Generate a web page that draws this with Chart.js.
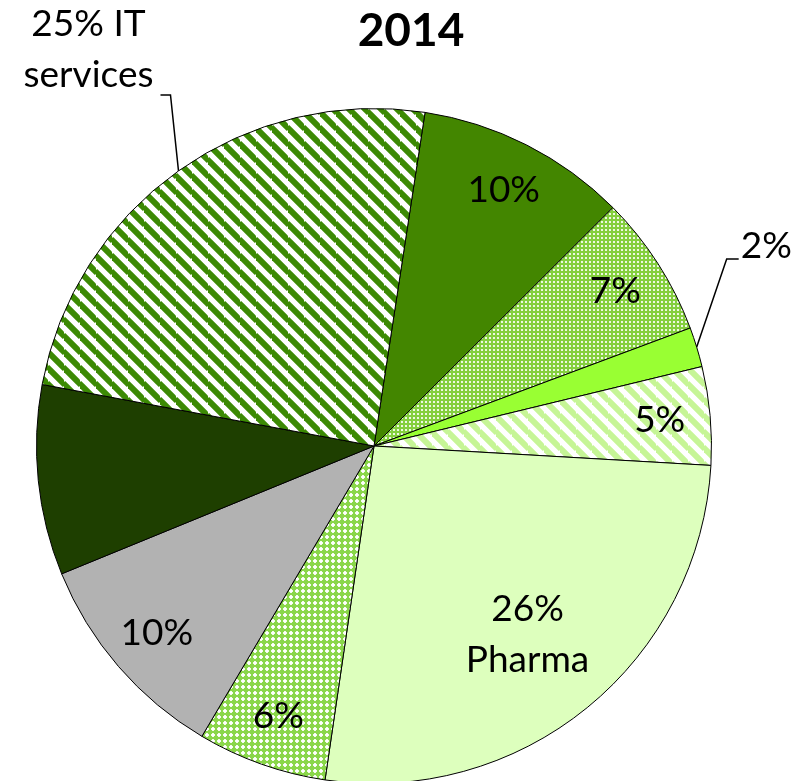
<!DOCTYPE html>
<html>
<head>
<meta charset="utf-8">
<script src="https://cdn.jsdelivr.net/npm/chart.js@4.4.1/dist/chart.umd.min.js"></script>
<style>
    html, body {
        margin: 0;
        padding: 0;
        background: #ffffff;
        overflow: hidden;
    }
</style>
</head>
<body>
<canvas id="pie2014" width="809" height="784"></canvas>
<script>

/* =========================
   DATA
========================= */

const chartTitle = '2014';

const categories = [
    'Segment 1',
    'Segment 2',
    'Segment 3',
    'Segment 4',
    'Pharma',
    'Segment 6',
    'Segment 7',
    'Segment 8',
    'IT services'
];

const shares = [10.1, 6.8, 1.9, 4.7, 26.4, 6.2, 10.3, 9.1, 24.5];

const sliceLabels = [
    '10%',
    '7%',
    '2%',
    '5%',
    '26%\nPharma',
    '6%',
    '10%',
    '',
    '25% IT\nservices'
];

/* =========================
   FILL PATTERNS
========================= */

function stripePattern(color, size, width) {

    const tile = document.createElement('canvas');
    tile.width = size;
    tile.height = size;

    const c = tile.getContext('2d');
    c.fillStyle = '#ffffff';
    c.fillRect(0, 0, size, size);

    c.strokeStyle = color;
    c.lineWidth = width;

    for (let k = -1; k <= 1; k++) {
        c.beginPath();
        c.moveTo(-1, k * size - 1);
        c.lineTo(size + 1, size + k * size + 1);
        c.stroke();
    }

    return c.createPattern(tile, 'repeat');
}

function dotPattern(color) {

    const tile = document.createElement('canvas');
    tile.width = 4;
    tile.height = 4;

    const c = tile.getContext('2d');
    c.fillStyle = color;
    c.fillRect(0, 0, 4, 4);

    c.fillStyle = 'rgba(255,255,255,0.85)';
    c.fillRect(1, 1, 2, 2);

    return c.createPattern(tile, 'repeat');
}

function diamondPattern(color) {

    const tile = document.createElement('canvas');
    tile.width = 6;
    tile.height = 6;

    const c = tile.getContext('2d');
    c.fillStyle = color;
    c.fillRect(0, 0, 6, 6);

    c.fillStyle = 'rgba(255,255,255,0.9)';
    c.fillRect(2, 1, 2, 4);
    c.fillRect(1, 2, 4, 2);

    return c.createPattern(tile, 'repeat');
}

const sliceFills = [
    '#438600',
    dotPattern('#84cf3e'),
    '#99ff33',
    stripePattern('#c6f596', 16, 6),
    '#ddffbd',
    diamondPattern('#8ad64a'),
    '#b2b2b2',
    '#1e3f00',
    stripePattern('#3c8a04', 16, 6)
];

/* =========================
   LABELS + TITLE PLUGIN
========================= */

const labelFont = '37px Lato, "Open Sans", sans-serif';
const lineGap = 51;

const pieLabels = {

    id: 'pieLabels',

    afterDatasetsDraw(chart) {

        const ctx = chart.ctx;
        const arcs = chart.getDatasetMeta(0).data;

        ctx.save();

        // title
        ctx.fillStyle = '#000000';
        ctx.font = 'bold 46px Lato, "Open Sans", sans-serif';
        ctx.textAlign = 'center';
        ctx.textBaseline = 'middle';
        ctx.fillText(chartTitle, 411, 31);

        ctx.font = labelFont;

        arcs.forEach((arc, i) => {

            const text = sliceLabels[i];
            if (!text) return;

            const mid = (arc.startAngle + arc.endAngle) / 2;
            const R = arc.outerRadius;
            const lines = text.split('\n');

            ctx.strokeStyle = '#000000';
            ctx.lineWidth = 1.5;

            if (categories[i] === 'IT services') {

                const ex = arc.x + Math.cos(mid) * R;
                const ey = arc.y + Math.sin(mid) * R;

                ctx.beginPath();
                ctx.moveTo(ex, ey);
                ctx.lineTo(ex - 8, ey - 76);
                ctx.lineTo(ex - 18, ey - 76);
                ctx.stroke();

                ctx.textAlign = 'center';
                lines.forEach((line, j) => {
                    ctx.fillText(line, ex - 90, ey - 147 + j * lineGap);
                });
                return;
            }

            if (shares[i] < 3) {

                const ex = arc.x + Math.cos(mid) * R;
                const ey = arc.y + Math.sin(mid) * R;

                ctx.beginPath();
                ctx.moveTo(ex, ey);
                ctx.lineTo(ex + 30, ey - 88);
                ctx.lineTo(ex + 42, ey - 88);
                ctx.stroke();

                ctx.textAlign = 'left';
                ctx.fillText(text, ex + 44, ey - 101);
                return;
            }

            const frac = lines.length > 1 ? 0.72 : 0.85;
            const lx = arc.x + Math.cos(mid) * R * frac;
            const ly = arc.y + Math.sin(mid) * R * frac;

            ctx.textAlign = 'center';
            lines.forEach((line, j) => {
                ctx.fillText(line, lx, ly + (j - (lines.length - 1) / 2) * lineGap);
            });
        });

        ctx.restore();
    }
};

/* =========================
   CHART
========================= */

const ctx = document.getElementById('pie2014').getContext('2d');

new Chart(ctx, {

    type: 'pie',

    data: {
        labels: categories,
        datasets: [{
            data: shares,
            backgroundColor: sliceFills,
            borderColor: '#000000',
            borderWidth: 1
        }]
    },

    options: {
        responsive: false,
        devicePixelRatio: 1,
        animation: false,
        rotation: 8.7,
        layout: {
            padding: {
                left: 36,
                top: 108,
                right: 97,
                bottom: 0
            }
        },
        plugins: {
            legend: { display: false },
            tooltip: { enabled: false },
            title: { display: false }
        }
    },

    plugins: [pieLabels]
});
</script>
</body>
</html>
